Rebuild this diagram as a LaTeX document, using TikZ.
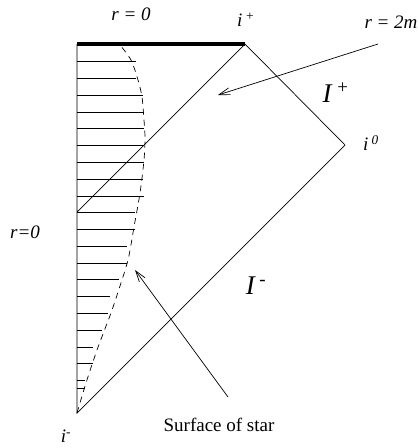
\documentclass[tikz,border=0pt]{standalone}
\usepackage{fontspec}
\setmainfont{Liberation Serif}
\usetikzlibrary{positioning, arrows.meta}
\tikzset{
  edge/.style={line width=0.7pt},
  sing/.style={line width=4.2pt},
  hatch/.style={line width=0.7pt},
  surf/.style={line width=0.7pt, dash pattern=on 6pt off 5pt},
  lbl/.style={font=\fontsize{19}{22}\selectfont\itshape, inner sep=0pt},
  scri/.style={font=\fontsize{27}{30}\selectfont\itshape, inner sep=0pt},
  plain/.style={font=\fontsize{19}{22}\selectfont, inner sep=0pt},
}

\begin{document}
\begin{tikzpicture}[x=1pt, y=-1pt, >={Straight Barb[length=11pt,width=7pt]}]
  \useasboundingbox (0,0) rectangle (418,448);
  % corners of the diagram
  \coordinate (tl) at (77,44);
  \coordinate (ip) at (245,44);
  \coordinate (io) at (345,145);
  \coordinate (im) at (77,413);
  \coordinate (hz) at (77,212);
  % interior of the star
  \foreach \y/\x in {61.7/136, 78.4/136, 95/143, 112/144, 128/144, 145/144,
      162/144, 179/143, 196/144, 212/135, 229/135, 246/127, 263/127,
      279/119, 296/110, 313/108, 330/102, 347/93, 363/93, 380/85, 388/85}
    \draw[hatch] (77,\y) -- (\x,\y);
  \draw[surf] plot[smooth] coordinates {(77,413) (86,383) (97,350) (111,313)
      (118,292) (128,260) (134,227) (140,193) (144,160) (145,138) (144,120)
      (142,97) (138,80) (131,60) (120,45)};
  % boundary and horizon
  \draw[edge] (tl) -- (im) -- (io) -- (ip) -- (hz);
  \draw[sing] (tl) -- (ip);
  % labels
  \node[lbl] (r0top) at (131,14) {r = 0};
  \node[lbl] (lip) at (246,20) {i\,\textsuperscript{+}};
  \node[lbl] (r2m) at (391,22) {r = 2m};
  \node[scri] (scrp) at (336,93) {I\,\textsuperscript{\fontsize{19}{22}\selectfont +}};
  \node[lbl] (lio) at (371,143) {i\,\textsuperscript{0}};
  \node[lbl] (r0ax) at (25,232) {r=0};
  \node[scri] (scrm) at (256,286) {I\,\textsuperscript{\fontsize{19}{22}\selectfont -}};
  \node[plain] (surfl) at (219,425) {Surface of star};
  \node[lbl] (lim) at (66,436) {i\textsuperscript{-}};
  % pointers
  \coordinate (hzs) at (378,44);
  \coordinate (hzt) at (218,95);
  \coordinate (sfs) at (228,397);
  \coordinate (sft) at (135,270);
  \draw[edge,->] (hzs) -- (hzt);
  \draw[edge,->] (sfs) -- (sft);
\end{tikzpicture}
\end{document}
